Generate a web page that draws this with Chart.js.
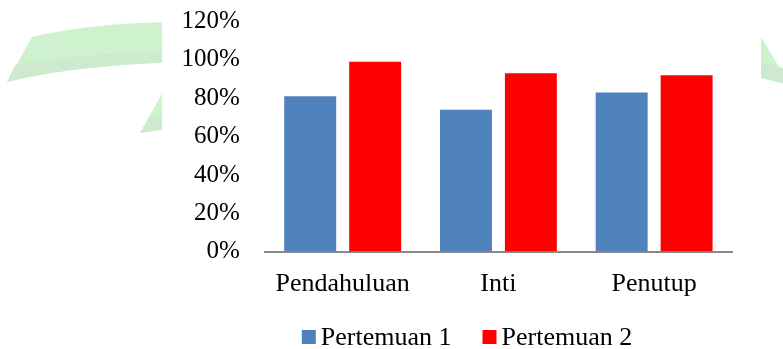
<!DOCTYPE html>
<html>
<head>
<meta charset="utf-8">
<script src="https://cdn.jsdelivr.net/npm/chart.js@4.4.1/dist/chart.umd.min.js"></script>
<style>
  html, body { margin: 0; padding: 0; background: #ffffff; }
  #wrap { width: 783px; height: 349px; }
</style>
</head>
<body>
<div id="wrap"><canvas id="chart" width="783" height="349"></canvas></div>
<script>
// Lesson stages and the share achieved in each meeting (percent)
const categories = ['Pendahuluan', 'Inti', 'Penutup'];
const pertemuan1 = [81, 74, 83];
const pertemuan2 = [99, 93, 92];
const seriesNames = ['Pertemuan 1', 'Pertemuan 2'];
const yTicks = [0, 20, 40, 60, 80, 100, 120];

const FONT = "'Liberation Serif', 'Times New Roman', serif";

// Faint green emblem behind the chart, masked by a white panel
const backdrop = {
  id: 'backdrop',
  beforeDraw(chart) {
    const c = chart.ctx;
    c.save();
    c.fillStyle = '#ffffff';
    c.fillRect(0, 0, chart.width, chart.height);

    // upper curved band
    c.fillStyle = '#cdf2cd';
    c.beginPath();
    c.moveTo(32, 37);
    c.quadraticCurveTo(90, 23, 175, 22);
    c.lineTo(175, 62);
    c.quadraticCurveTo(70, 66, 7, 82);
    c.closePath();
    c.fill();
    // darker lower strip of the band
    c.fillStyle = '#ceeace';
    c.beginPath();
    c.moveTo(15, 65);
    c.quadraticCurveTo(80, 53, 175, 51);
    c.lineTo(175, 62);
    c.quadraticCurveTo(70, 66, 7, 82);
    c.closePath();
    c.fill();

    // lower wedge
    c.fillStyle = '#cdf2cd';
    c.beginPath();
    c.moveTo(175, 70);
    c.lineTo(175, 128);
    c.lineTo(140, 133);
    c.closePath();
    c.fill();
    c.fillStyle = '#ceeace';
    c.beginPath();
    c.moveTo(150, 117);
    c.lineTo(175, 113);
    c.lineTo(175, 128);
    c.lineTo(140, 133);
    c.closePath();
    c.fill();

    // right wedge
    c.fillStyle = '#cdf2cd';
    c.beginPath();
    c.moveTo(761, 37);
    c.lineTo(790, 85);
    c.lineTo(761, 78);
    c.closePath();
    c.fill();
    c.fillStyle = '#ceeace';
    c.beginPath();
    c.moveTo(761, 62);
    c.lineTo(783, 68);
    c.lineTo(790, 85);
    c.lineTo(761, 78);
    c.closePath();
    c.fill();

    // white panel holding the chart
    c.fillStyle = '#ffffff';
    c.fillRect(162, 0, 599, chart.height);
    c.restore();
  }
};

// Legend row under the category labels: square swatch, then the series name
const legendRow = {
  id: 'legendRow',
  afterDraw(chart) {
    const c = chart.ctx;
    const size = 26, box = 14, gap = 5, itemGap = 31;
    const centerX = 467, centerY = 337;
    c.save();
    c.font = size + 'px ' + FONT;
    c.textBaseline = 'middle';
    c.textAlign = 'left';
    const items = chart.data.datasets.map(ds => ({
      text: ds.label, color: ds.backgroundColor, w: c.measureText(ds.label).width
    }));
    const total = items.reduce((s, it) => s + box + gap + it.w, 0) + itemGap * (items.length - 1);
    let x = centerX - total / 2;
    items.forEach(it => {
      c.fillStyle = it.color;
      c.fillRect(x, centerY - box / 2, box, box);
      c.fillStyle = '#000000';
      c.fillText(it.text, x + box + gap, centerY + 1);
      x += box + gap + it.w + itemGap;
    });
    c.restore();
  }
};

new Chart(document.getElementById('chart'), {
  type: 'bar',
  data: {
    labels: categories,
    datasets: [
      { label: seriesNames[0], data: pertemuan1, backgroundColor: '#4f81bd', borderWidth: 0 },
      { label: seriesNames[1], data: pertemuan2, backgroundColor: '#ff0000', borderWidth: 0 }
    ]
  },
  options: {
    responsive: false,
    devicePixelRatio: 1,
    animation: false,
    datasets: { bar: { categoryPercentage: 0.834, barPercentage: 0.8 } },
    layout: { padding: { left: 175, right: 51, top: 0, bottom: 32 } },
    scales: {
      x: {
        grid: { display: false, drawTicks: false },
        border: { display: true, color: '#898989', width: 2 },
        ticks: { color: '#000000', font: { family: FONT, size: 26 }, padding: 17 }
      },
      y: {
        min: yTicks[0],
        max: yTicks[yTicks.length - 1],
        afterBuildTicks(scale) { scale.ticks = yTicks.map(v => ({ value: v })); },
        grid: {
          display: true,
          drawOnChartArea: false,
          drawTicks: true,
          tickLength: 18.5,
          color: 'rgba(0,0,0,0)'
        },
        border: { display: false },
        ticks: {
          color: '#000000',
          autoSkip: false,
          font: { family: FONT, size: 25 },
          padding: 6.5,
          callback: v => v + '%'
        }
      }
    },
    plugins: {
      legend: { display: false },
      tooltip: { enabled: false }
    }
  },
  plugins: [backdrop, legendRow]
});
</script>
</body>
</html>
